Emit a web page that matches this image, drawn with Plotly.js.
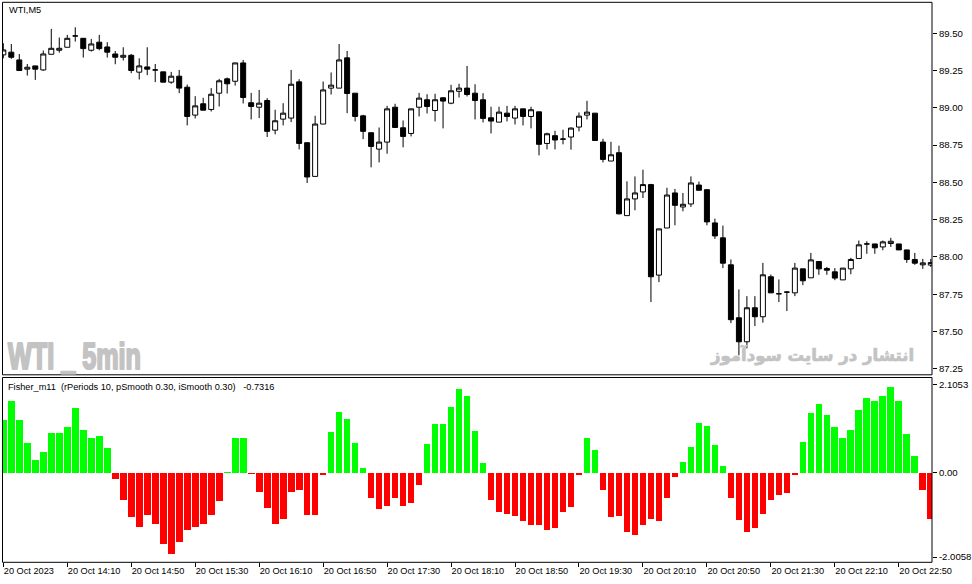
<!DOCTYPE html>
<html>
<head>
<meta charset="utf-8">
<script src="https://cdn.plot.ly/plotly-3.0.1.min.js"></script>
<style>
html,body{margin:0;padding:0;background:#fff;}
#chart{width:972px;height:584px;}
</style>
</head>
<body>
<div id="chart"></div>
<script>
// ---- Data (WTI, M5, 20 Oct 2023, 13:30 .. 23:10) ----
const openP = [89.355,89.373,89.321,89.259,89.281,89.254,89.359,89.386,89.406,89.482,
89.466,89.386,89.440,89.408,89.361,89.339,89.352,89.239,89.274,89.254,
89.241,89.172,89.212,89.138,88.951,89.027,88.989,89.098,89.194,89.178,
89.301,89.034,89.004,89.049,88.850,88.924,88.931,89.174,88.766,88.540,
88.891,89.132,89.132,89.335,89.098,88.946,88.833,88.723,88.770,89.004,
88.866,88.828,89.004,89.054,88.982,89.067,89.031,89.111,89.132,89.098,
89.054,88.933,88.904,88.964,88.931,88.993,88.942,88.973,88.761,88.813,
88.790,88.804,88.871,88.951,88.964,88.770,88.643,88.699,88.277,88.389,
88.436,88.485,87.878,88.194,88.429,88.335,88.355,88.482,88.451,88.228,
88.128,87.947,87.592,87.431,87.659,87.599,87.867,87.753,87.764,87.759,
87.920,87.860,87.969,87.922,87.900,87.846,87.920,87.989,88.087,88.087,
88.067,88.090,88.087,88.047,87.983,87.947,87.945];

const highP = [89.433,89.428,89.361,89.294,89.281,89.384,89.529,89.471,89.489,89.540,
89.466,89.462,89.489,89.440,89.381,89.406,89.361,89.332,89.406,89.294,
89.241,89.241,89.254,89.156,89.078,89.067,89.132,89.194,89.203,89.301,
89.321,89.100,89.120,89.065,88.987,89.031,89.254,89.192,88.766,88.947,
89.176,89.237,89.428,89.381,89.098,88.953,88.833,88.868,89.013,89.027,
88.915,88.993,89.100,89.091,89.094,89.071,89.154,89.161,89.281,89.158,
89.098,89.007,89.007,89.013,89.013,88.993,89.007,88.973,88.833,88.846,
88.853,88.868,88.969,89.047,88.964,88.792,88.772,88.746,88.507,88.540,
88.585,88.490,88.188,88.464,88.456,88.429,88.540,88.505,88.451,88.257,
88.210,87.983,87.782,87.737,87.737,87.960,87.882,87.849,87.771,87.960,
87.920,88.027,87.969,87.933,87.925,87.925,87.994,88.110,88.105,88.087,
88.110,88.128,88.087,88.047,88.027,87.987,87.987];

const lowP = [89.332,89.328,89.250,89.216,89.187,89.248,89.359,89.370,89.406,89.444,
89.337,89.377,89.386,89.337,89.292,89.317,89.232,89.190,89.219,89.172,
89.172,89.161,89.098,88.882,88.929,88.984,88.975,89.009,89.096,89.149,
89.029,88.922,88.931,88.804,88.822,88.882,88.904,88.721,88.496,88.540,
88.891,89.089,89.132,88.964,88.909,88.790,88.601,88.634,88.692,88.868,
88.735,88.808,88.942,88.962,88.909,88.862,89.024,89.069,89.076,88.922,
88.902,88.828,88.904,88.909,88.888,88.882,88.862,88.681,88.721,88.721,
88.755,88.719,88.842,88.922,88.781,88.634,88.643,88.285,88.277,88.313,
88.395,87.697,87.831,88.194,88.212,88.306,88.335,88.447,88.212,88.121,
87.925,87.556,87.340,87.387,87.536,87.559,87.759,87.697,87.637,87.737,
87.811,87.860,87.880,87.880,87.844,87.846,87.884,87.989,88.021,88.021,
88.045,88.067,88.047,87.960,87.947,87.920,87.933];

const closeP = [89.388,89.339,89.250,89.272,89.259,89.361,89.399,89.399,89.466,89.482,
89.397,89.428,89.397,89.373,89.339,89.352,89.250,89.281,89.259,89.254,
89.172,89.212,89.132,88.942,89.013,88.984,89.091,89.181,89.161,89.301,
89.069,89.009,89.031,88.842,88.913,88.964,89.158,88.761,88.536,88.891,
89.120,89.152,89.321,89.096,88.942,88.842,88.741,88.770,88.993,88.868,
88.808,88.993,89.065,89.009,89.054,89.045,89.114,89.132,89.089,89.049,
88.929,88.911,88.971,88.942,88.993,88.942,88.987,88.755,88.826,88.784,
88.790,88.864,88.944,88.971,88.781,88.654,88.685,88.289,88.389,88.429,
88.485,87.867,88.188,88.415,88.346,88.353,88.496,88.447,88.235,88.141,
87.958,87.579,87.431,87.659,87.599,87.880,87.759,87.753,87.764,87.925,
87.840,87.980,87.920,87.911,87.858,87.925,87.983,88.081,88.087,88.061,
88.101,88.105,88.047,87.983,87.958,87.960,87.962];

const fisher = [1.26,1.70,1.26,0.71,0.31,0.50,0.95,0.95,1.09,1.55,
1.02,0.83,0.88,0.59,-0.16,-0.64,-1.06,-1.30,-1.00,-1.23,
-1.70,-1.94,-1.66,-1.37,-1.30,-1.23,-1.01,-0.68,0.02,0.83,
0.83,-0.02,-0.47,-0.85,-1.21,-1.09,-0.47,-0.42,-1.01,-1.01,
-0.06,0.98,1.45,1.28,0.71,0.12,-0.59,-0.87,-0.80,-0.59,
-0.80,-0.73,-0.28,0.69,1.17,1.17,1.57,2.00,1.83,1.00,
0.24,-0.66,-0.94,-0.99,-1.04,-1.16,-1.25,-1.25,-1.37,-1.32,
-0.94,-0.82,-0.06,0.83,0.55,-0.42,-1.06,-1.04,-1.40,-1.49,
-1.25,-1.09,-1.16,-0.59,-0.09,0.26,0.62,1.19,1.12,0.67,
0.17,-0.61,-1.13,-1.42,-1.32,-0.99,-0.66,-0.54,-0.49,-0.06,
0.74,1.43,1.64,1.38,1.09,0.83,1.02,1.50,1.78,1.71,
1.83,2.05,1.71,0.93,0.40,-0.40,-1.09];

const timeTickIndex = [0,8,16,24,32,40,48,56,64,72,80,88,96,104,112];
const timeTickLabels = ["20 Oct 2023","20 Oct 14:10","20 Oct 14:50","20 Oct 15:30","20 Oct 16:10",
"20 Oct 16:50","20 Oct 17:30","20 Oct 18:10","20 Oct 18:50","20 Oct 19:30","20 Oct 20:10",
"20 Oct 20:50","20 Oct 21:30","20 Oct 22:10","20 Oct 22:50"];
const priceTicks = [87.25,87.50,87.75,88.00,88.25,88.50,88.75,89.00,89.25,89.50];
const fisherTicks = [2.1053, 0, -2.0058];
const fisherTickLabels = ["2.1053","0.00","-2.0058"];

// ---- Figure ----
const W = 972, H = 584;
const px = v => v / W;
const py = v => 1 - v / H;
const idx = openP.map((_, i) => i);
const FONT = "Liberation Sans, Arial, sans-serif";

const candles = {
  type: 'candlestick', x: idx, open: openP, high: highP, low: lowP, close: closeP,
  xaxis: 'x2', yaxis: 'y2',
  increasing: {line: {color: '#000', width: 1}, fillcolor: '#fff'},
  decreasing: {line: {color: '#000', width: 1}, fillcolor: '#000'},
  whiskerwidth: 0, hoverinfo: 'skip', showlegend: false
};

const bars = {
  type: 'bar', x: idx, y: fisher, xaxis: 'x', yaxis: 'y',
  width: 0.84,
  marker: {color: fisher.map(v => v >= 0 ? '#00ff00' : '#ff0000'), line: {width: 0}},
  hoverinfo: 'skip', showlegend: false
};

const axFont = {family: FONT, size: 9.6, color: '#000'};
const timeFont = {family: FONT, size: 9.2, color: '#000'};
const xDomain = [px(2.5), px(932)];
const xRange = [-0.1, 116.15];

const layout = {
  width: W, height: H,
  margin: {l: 0, r: 0, t: 0, b: 0, pad: 0},
  paper_bgcolor: '#fff', plot_bgcolor: '#fff',
  showlegend: false,
  boxgap: 0.375, boxgroupgap: 0,
  bargap: 0,
  xaxis: {
    domain: xDomain, range: xRange, anchor: 'y',
    tickmode: 'array', tickvals: timeTickIndex, ticktext: timeTickLabels,
    ticks: 'outside', ticklen: 4, tickwidth: 1, tickcolor: '#000',
    ticklabelposition: 'outside right',
    tickfont: timeFont, showgrid: false, zeroline: false, showline: false,
    rangeslider: {visible: false}, fixedrange: true
  },
  xaxis2: {
    domain: xDomain, range: xRange, anchor: 'y2', matches: 'x',
    showticklabels: false, ticks: '', showgrid: false, zeroline: false, showline: false,
    rangeslider: {visible: false}, fixedrange: true
  },
  yaxis: {
    domain: [py(562.3), py(377.5)], range: [-2.132, 2.267], anchor: 'x', side: 'right',
    tickmode: 'array', tickvals: fisherTicks, ticktext: fisherTickLabels,
    ticks: 'outside', ticklen: 4, tickwidth: 1, tickcolor: '#000',
    tickfont: axFont, showgrid: false, zeroline: false, showline: false, fixedrange: true
  },
  yaxis2: {
    domain: [py(374.8), py(2.3)], range: [87.2095, 89.7075], anchor: 'x2', side: 'right',
    tickmode: 'array', tickvals: priceTicks, ticktext: priceTicks.map(v => v.toFixed(2)),
    ticks: 'outside', ticklen: 4, tickwidth: 1, tickcolor: '#000',
    tickfont: axFont, showgrid: false, zeroline: false, showline: false, fixedrange: true
  },
  shapes: [
    {type: 'rect', xref: 'x domain', yref: 'y2 domain', x0: 0, x1: 1, y0: 0, y1: 1,
     line: {color: '#000', width: 1}, fillcolor: 'rgba(0,0,0,0)', layer: 'above'},
    {type: 'rect', xref: 'x domain', yref: 'y domain', x0: 0, x1: 1, y0: 0, y1: 1,
     line: {color: '#000', width: 1}, fillcolor: 'rgba(0,0,0,0)', layer: 'above'}
  ],
  annotations: [
    {xref: 'paper', yref: 'paper', x: px(7), y: py(10), xanchor: 'left', yanchor: 'middle',
     text: 'WTI,M5', showarrow: false, font: {family: FONT, size: 9.2, color: '#000'}},
    {xref: 'paper', yref: 'paper', x: px(6), y: py(387), xanchor: 'left', yanchor: 'middle',
     text: 'Fisher_m11\u00a0\u00a0(rPeriods 10, pSmooth 0.30, iSmooth 0.30)\u00a0\u00a0\u00a0-0.7316',
     showarrow: false, font: {family: FONT, size: 9.2, color: '#000'}},
    {xref: 'paper', yref: 'paper', x: px(6), y: py(356), xanchor: 'left', yanchor: 'middle', align: 'left',
     text: '<b>WTI _ 5min</b>', showarrow: false,
     font: {family: 'Liberation Sans, Arial, sans-serif', size: 36, color: '#c3c3c3'}},
    {xref: 'paper', yref: 'paper', x: px(916), y: py(355), xanchor: 'right', yanchor: 'middle',
     text: '<b>انتشار در سایت سودآموز</b>', showarrow: false,
     font: {family: 'DejaVu Sans, sans-serif', size: 16.5, color: '#c3c3c3'}}
  ]
};

Plotly.newPlot('chart', [bars, candles], layout, {staticPlot: true, displayModeBar: false}).then(() => {
  // condense and thicken the watermarks like the reference's heavy faces
  document.querySelectorAll('.annotation-text').forEach(t => {
    if (t.textContent.indexOf('WTI _ 5min') >= 0) {
      t.setAttribute('textLength', '133');
      t.setAttribute('lengthAdjust', 'spacingAndGlyphs');
      t.style.stroke = '#c3c3c3';
      t.style.strokeWidth = '2.2px';
      t.style.strokeLinejoin = 'round';
    } else if (t.textContent.indexOf('سودآموز') >= 0) {
      t.style.stroke = '#c3c3c3';
      t.style.strokeWidth = '0.7px';
    }
  });
});
</script>
</body>
</html>
